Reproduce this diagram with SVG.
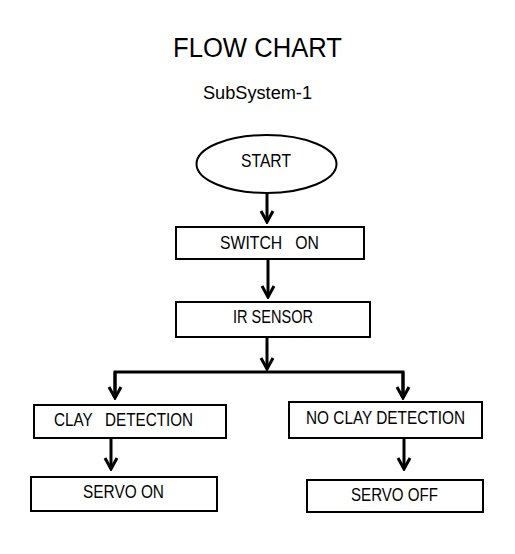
<svg xmlns="http://www.w3.org/2000/svg" width="515" height="554" viewBox="0 0 515 554">
<style>
.box{fill:#fff;stroke:#000;stroke-width:2}
.t{font-family:"Liberation Sans",Arial,sans-serif;font-size:18px;fill:#000}
.c{fill:none;stroke:#000;stroke-width:3}
</style>
<defs>
<marker id="ah" markerUnits="userSpaceOnUse" markerWidth="16" markerHeight="16" viewBox="-14 -8 16 16" refX="0" refY="0" orient="auto">
<polyline points="-11,-6 0,0 -11,6" fill="none" stroke="#000" stroke-width="3"/>
</marker>
</defs>
<rect width="515" height="554" fill="#fff"/>
<text x="173" y="57" class="t" style="font-size:27px" textLength="169" lengthAdjust="spacingAndGlyphs">FLOW CHART</text>
<text x="203" y="99" class="t" textLength="109" lengthAdjust="spacingAndGlyphs">SubSystem-1</text>
<g id="connectors">
<line class="c" x1="267" y1="193" x2="267" y2="222" marker-end="url(#ah)"/>
<line class="c" x1="268" y1="259" x2="268" y2="297" marker-end="url(#ah)"/>
<line class="c" x1="267" y1="337" x2="267" y2="369" marker-end="url(#ah)"/>
<polyline class="c" points="115,398 115,372 403,372 403,398"/>
<line class="c" x1="115" y1="372" x2="115" y2="398" marker-end="url(#ah)"/>
<line class="c" x1="403" y1="372" x2="403" y2="398" marker-end="url(#ah)"/>
<line class="c" x1="111" y1="438" x2="111" y2="469" marker-end="url(#ah)"/>
<line class="c" x1="404" y1="438" x2="404" y2="469" marker-end="url(#ah)"/>
</g>
<g id="start">
<ellipse class="box" cx="266.5" cy="164" rx="70" ry="29"/>
<text x="241" y="167" class="t" textLength="50" lengthAdjust="spacingAndGlyphs">START</text>
</g>
<g id="switch-on">
<rect class="box" x="176" y="227" width="188" height="32"/>
<text x="220" y="249" class="t" textLength="99" lengthAdjust="spacingAndGlyphs" xml:space="preserve">SWITCH   ON</text>
</g>
<g id="ir-sensor">
<rect class="box" x="176" y="302" width="194" height="35"/>
<text x="233" y="323" class="t" textLength="80" lengthAdjust="spacingAndGlyphs">IR SENSOR</text>
</g>
<g id="clay-detection">
<rect class="box" x="34" y="405" width="192" height="33"/>
<text x="54" y="426" class="t" textLength="139" lengthAdjust="spacingAndGlyphs" xml:space="preserve">CLAY   DETECTION</text>
</g>
<g id="no-clay-detection">
<rect class="box" x="289" y="402" width="193" height="36"/>
<text x="306" y="424" class="t" textLength="159" lengthAdjust="spacingAndGlyphs">NO CLAY DETECTION</text>
</g>
<g id="servo-on">
<rect class="box" x="31" y="477" width="186" height="34"/>
<text x="83" y="498" class="t" textLength="81" lengthAdjust="spacingAndGlyphs">SERVO ON</text>
</g>
<g id="servo-off">
<rect class="box" x="307" y="480" width="176" height="32"/>
<text x="351" y="501" class="t" textLength="87" lengthAdjust="spacingAndGlyphs">SERVO OFF</text>
</g>
</svg>
